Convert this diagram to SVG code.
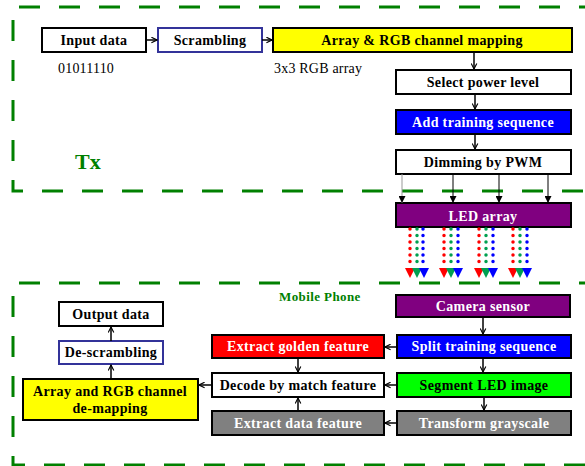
<svg xmlns="http://www.w3.org/2000/svg" width="585" height="466" viewBox="0 0 585 466">
<style>
.frame{fill:none;stroke:#008000;stroke-width:3;stroke-dasharray:21 19}
.box{stroke:#000;stroke-width:2}
.t{font-family:"Liberation Serif","Times New Roman",serif;font-weight:bold;font-size:14px;letter-spacing:0.35px;text-anchor:middle}
.w{fill:#fff}
.k{fill:#000}
.n{font-family:"Liberation Serif","Times New Roman",serif;font-size:14px;letter-spacing:0.2px}
.c{fill:none;stroke:#000;stroke-width:1.5}
.d{fill:none;stroke-dasharray:0 6.5;stroke-linecap:round;stroke-width:3.5}
</style>
<defs>
<marker id="oa" viewBox="0 0 10 10" refX="9" refY="5" markerWidth="7" markerHeight="7" markerUnits="userSpaceOnUse" orient="auto">
<path d="M1,1 L9,5 L1,9" fill="none" stroke="#000" stroke-width="1.6"/>
</marker>
<marker id="fa" viewBox="0 0 10 10" refX="10" refY="5" markerWidth="7" markerHeight="7" markerUnits="userSpaceOnUse" orient="auto">
<path d="M0,0 L10,5 L0,10 z" fill="#000"/>
</marker>
</defs>
<rect width="585" height="466" fill="#fff"/>
<g id="tx-frame"><path class="frame" d="M600,7 H13 V191 H600"/></g>
<g id="rx-frame"><path class="frame" d="M600,283 H13 V465 H600"/></g>
<text x="75" y="169" font-family="Liberation Serif,serif" font-weight="bold" font-size="22" fill="#008000">Tx</text>
<text x="279" y="301" font-family="Liberation Serif,serif" font-weight="bold" font-size="13" letter-spacing="0.4" fill="#008000">Mobile Phone</text>
<text class="n" x="58" y="73">01011110</text>
<text class="n" x="274" y="73">3x3 RGB array</text>
<g id="input"><rect class="box" x="42" y="28" width="104" height="24" fill="#fff"/><text class="t k" x="94" y="45">Input data</text></g>
<g id="scrambling"><rect x="158" y="28" width="104" height="24" fill="#fff" stroke="#333399" stroke-width="2"/><text class="t k" x="210" y="45">Scrambling</text></g>
<g id="mapping"><rect class="box" x="273" y="28" width="299" height="24" fill="#ffff00"/><text class="t k" x="422" y="45">Array &amp; RGB channel mapping</text></g>
<g id="power"><rect class="box" x="396" y="70" width="175" height="24" fill="#fff"/><text class="t k" x="483" y="87">Select  power level</text></g>
<g id="training"><rect class="box" x="396" y="110" width="175" height="24" fill="#0000ff"/><text class="t w" x="483" y="127">Add training sequence</text></g>
<g id="pwm"><rect class="box" x="396" y="150" width="175" height="24" fill="#fff"/><text class="t k" x="483" y="167">Dimming by PWM</text></g>
<g id="led"><rect class="box" x="396" y="203" width="175" height="24" fill="#800080"/><text class="t w" x="483" y="221" font-size="16px">LED array</text></g>
<g id="camera"><rect class="box" x="396" y="295" width="174" height="22" fill="#800080"/><text class="t w" x="483" y="311">Camera sensor</text></g>
<g id="split"><rect class="box" x="397" y="335" width="174" height="23" fill="#0000ff"/><text class="t w" x="484" y="351">Split training sequence</text></g>
<g id="segment"><rect class="box" x="397" y="373" width="174" height="24" fill="#00ff00"/><text class="t k" x="484" y="390">Segment LED image</text></g>
<g id="gray"><rect class="box" x="397" y="411" width="174" height="24" fill="#808080"/><text class="t w" x="484" y="428">Transform grayscale</text></g>
<g id="golden"><rect class="box" x="212" y="335" width="172" height="23" fill="#ff0000"/><text class="t w" x="298" y="351">Extract golden feature</text></g>
<g id="decode"><rect class="box" x="212" y="373" width="172" height="24" fill="#fff"/><text class="t k" x="298" y="390">Decode by match feature</text></g>
<g id="datafeat"><rect class="box" x="212" y="411" width="172" height="24" fill="#808080"/><text class="t w" x="298" y="428">Extract data feature</text></g>
<g id="demap"><rect class="box" x="23" y="379" width="175" height="41" fill="#ffff00"/><text class="t k" x="110" y="396">Array and RGB channel</text><text class="t k" x="110" y="413">de-mapping</text></g>
<g id="descr"><rect x="59" y="341" width="104" height="23" fill="#fff" stroke="#333399" stroke-width="2"/><text class="t k" x="111" y="357">De-scrambling</text></g>
<g id="output"><rect class="box" x="59" y="302" width="104" height="24" fill="#fff"/><text class="t k" x="111" y="319">Output data</text></g>
<g id="connectors">
<path class="c" marker-end="url(#oa)" d="M146,40 H157"/>
<path class="c" marker-end="url(#oa)" d="M262,40 H272"/>
<path class="c" marker-end="url(#oa)" d="M474,52 V69"/>
<path class="c" marker-end="url(#oa)" d="M475,94 V109"/>
<path class="c" marker-end="url(#oa)" d="M475,134 V149"/>
<path stroke="#999" stroke-width="1" marker-end="url(#fa)" d="M402,174 V203"/>
<path stroke="#000" stroke-width="1" marker-end="url(#fa)" d="M453,174 V203"/>
<path stroke="#000" stroke-width="1" marker-end="url(#fa)" d="M499,174 V203"/>
<path stroke="#000" stroke-width="1" marker-end="url(#fa)" d="M548,174 V203"/>
<path class="c" marker-end="url(#oa)" d="M483,317 V334"/>
<path class="c" marker-end="url(#oa)" d="M483,358 V372"/>
<path class="c" marker-end="url(#oa)" d="M484,397 V410"/>
<path class="c" marker-end="url(#oa)" d="M397,347 H385"/>
<path class="c" marker-end="url(#oa)" d="M397,385 H385"/>
<path class="c" marker-end="url(#oa)" d="M397,423 H385"/>
<path class="c" marker-end="url(#oa)" d="M298,358 V372"/>
<path class="c" marker-end="url(#oa)" d="M298,411 V398"/>
<path class="c" marker-end="url(#oa)" d="M212,385 H199"/>
<path class="c" marker-end="url(#oa)" d="M111,379 V365"/>
<path class="c" marker-end="url(#oa)" d="M111,341 V327"/>
</g>
<g id="light">
<g id="beam1">
<path class="d" stroke="#ff0000" d="M410,229 V264"/><path class="d" stroke="#00a050" d="M417,229 V264"/><path class="d" stroke="#0000ff" d="M423,229 V264"/>
<polygon points="405,268 415,268 410,278" fill="#ff0000"/><polygon points="412,268 422,268 417,278" fill="#00a050"/><polygon points="419,268 429,268 424,278" fill="#0000ff"/>
</g>
<g id="beam2">
<path class="d" stroke="#ff0000" d="M444,229 V264"/><path class="d" stroke="#00a050" d="M451,229 V264"/><path class="d" stroke="#0000ff" d="M458,229 V264"/>
<polygon points="439,268 449,268 444,278" fill="#ff0000"/><polygon points="446,268 456,268 451,278" fill="#00a050"/><polygon points="453,268 463,268 458,278" fill="#0000ff"/>
</g>
<g id="beam3">
<path class="d" stroke="#ff0000" d="M479,229 V264"/><path class="d" stroke="#00a050" d="M486,229 V264"/><path class="d" stroke="#0000ff" d="M493,229 V264"/>
<polygon points="474,268 484,268 479,278" fill="#ff0000"/><polygon points="481,268 491,268 486,278" fill="#00a050"/><polygon points="488,268 498,268 493,278" fill="#0000ff"/>
</g>
<g id="beam4">
<path class="d" stroke="#ff0000" d="M513,229 V264"/><path class="d" stroke="#00a050" d="M520,229 V264"/><path class="d" stroke="#0000ff" d="M527,229 V264"/>
<polygon points="508,268 518,268 513,278" fill="#ff0000"/><polygon points="515,268 525,268 520,278" fill="#00a050"/><polygon points="522,268 532,268 527,278" fill="#0000ff"/>
</g>
</g>
</svg>
